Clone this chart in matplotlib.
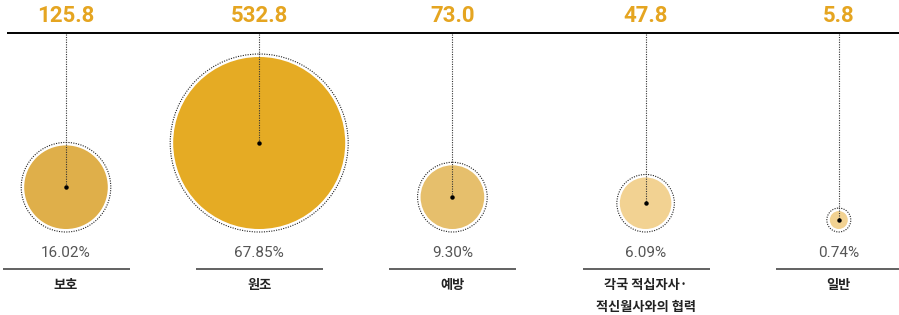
import matplotlib
matplotlib.use("Agg")
import matplotlib.pyplot as plt
from matplotlib.patches import Circle
import numpy as np

categories = ["보호", "원조", "예방", "각국 적십자사·\n적신월사와의 협력", "일반"]
values = [125.8, 532.8, 73.0, 47.8, 5.8]
percents = ["16.02%", "67.85%", "9.30%", "6.09%", "0.74%"]
colors = ["#DFAF4A", "#E5AB24", "#E6BF6C", "#F2D292", "#F2D292"]

W, H = 899, 315
fig = plt.figure(figsize=(W / 100, H / 100), dpi=100)
ax = fig.add_axes([0, 0, 1, 1])
ax.set_xlim(0, W)
ax.set_ylim(H, 0)
ax.axis("off")

x0, step = 66, 193.2
rmax = 86
base = 229
top_y = 33
gold = "#E5A521"
narrow = ["Roboto", "DejaVu Sans"]
kr = ["Noto Sans CJK KR", "DejaVu Sans"]

ax.plot([7, W], [top_y, top_y], color="black", lw=1.4, solid_capstyle="butt")

vmax = max(values)
for i, (cat, v, p, c) in enumerate(zip(categories, values, percents, colors)):
    cx = x0 + i * step
    r = rmax * np.sqrt(v / vmax)
    cy = base - r
    ax.add_patch(Circle((cx, cy), r, facecolor=c, edgecolor="none", zorder=2))
    ax.add_patch(Circle((cx, cy), r + 3, facecolor="none", edgecolor="#222222",
                        lw=0.8, linestyle=(0, (1, 1.2)), zorder=3))
    ax.plot([cx, cx], [top_y + 1, cy], color="#333333", lw=0.8,
            linestyle=(0, (1, 1.2)), zorder=4)
    ax.plot([cx], [cy], "o", color="black", ms=2.2, zorder=5)
    ax.text(cx, 16, f"{v:.1f}", ha="center", va="center", color=gold,
            fontsize=16, fontweight="bold", family=narrow)
    ax.text(cx, 253, p, ha="center", va="center", color="#555555",
            fontsize=11, family=narrow)
    ax.plot([cx - 63, cx + 64], [269, 269], color="#555555", lw=1.3,
            solid_capstyle="butt")
    ax.text(cx, 278, cat, ha="center", va="top", color="#222222",
            fontsize=9.5, fontweight="bold", family=kr, linespacing=1.75)

fig.savefig("out.png", dpi=100)
